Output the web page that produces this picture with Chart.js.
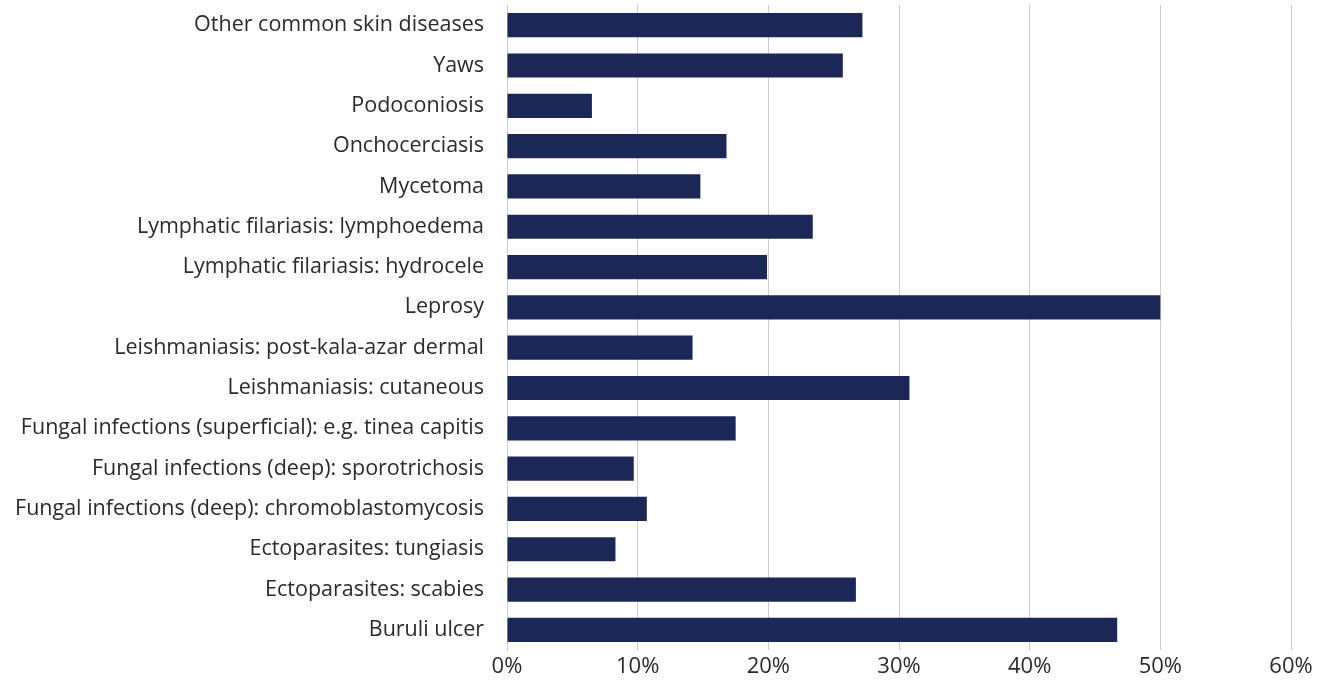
<!DOCTYPE html>
<html>
<head>
<meta charset="utf-8">
<script src="https://cdn.jsdelivr.net/npm/chart.js@4"></script>
<style>
  html, body { margin: 0; padding: 0; background: #fff; }
  #wrap { width: 1325px; height: 680px; position: relative; }
</style>
</head>
<body>
<div id="wrap"><canvas id="myChart"></canvas></div>
<script>
const diseases = [
    'Other common skin diseases',
    'Yaws',
    'Podoconiosis',
    'Onchocerciasis',
    'Mycetoma',
    'Lymphatic filariasis: lymphoedema',
    'Lymphatic filariasis: hydrocele',
    'Leprosy',
    'Leishmaniasis: post-kala-azar dermal',
    'Leishmaniasis: cutaneous',
    'Fungal infections (superficial): e.g. tinea capitis',
    'Fungal infections (deep): sporotrichosis',
    'Fungal infections (deep): chromoblastomycosis',
    'Ectoparasites: tungiasis',
    'Ectoparasites: scabies',
    'Buruli ulcer'
];
// share of respondents, percent
const shares = [27.2, 25.7, 6.5, 16.8, 14.8, 23.4, 19.9, 50.0, 14.2, 30.8, 17.5, 9.7, 10.7, 8.3, 26.7, 46.7];
const xTicks = [0, 10, 20, 30, 40, 50, 60];

const fontFamily = '"Open Sans", sans-serif';
const textColor = '#2b2b2b';

const config = {
    type: 'bar',
    data: {
        labels: diseases,
        datasets: [{
            data: shares,
            backgroundColor: '#1b2857',
            barPercentage: 0.6,
            categoryPercentage: 1.0
        }]
    },
    options: {
        indexAxis: 'y',
        responsive: true,
        maintainAspectRatio: false,
        animation: false,
        layout: { padding: { top: 5, right: 34, left: 0, bottom: 0 } },
        plugins: {
            legend: { display: false },
            tooltip: { enabled: false }
        },
        scales: {
            x: {
                min: 0,
                max: 60,
                afterBuildTicks: axis => { axis.ticks = xTicks.map(v => ({ value: v })); },
                afterFit: axis => { axis.height = 30; },
                grid: { color: '#cccccc', lineWidth: 1, drawTicks: false },
                border: { display: false },
                ticks: {
                    color: textColor,
                    padding: 4,
                    font: { family: fontFamily, size: 22 },
                    callback: v => v + '%'
                }
            },
            y: {
                // fixed label column; drop the label-height padding so bars start at the top
                afterFit: axis => {
                    axis.width = 507;
                    axis.paddingTop = 0;
                    axis.paddingBottom = 0;
                },
                grid: { display: false, drawTicks: false },
                border: { display: true, color: '#cccccc' },
                ticks: {
                    color: textColor,
                    padding: 23,
                    autoSkip: false,
                    font: { family: fontFamily, size: 21.5 }
                }
            }
        }
    }
};
const myChart = new Chart(document.getElementById('myChart'), config);
</script>
</body>
</html>
